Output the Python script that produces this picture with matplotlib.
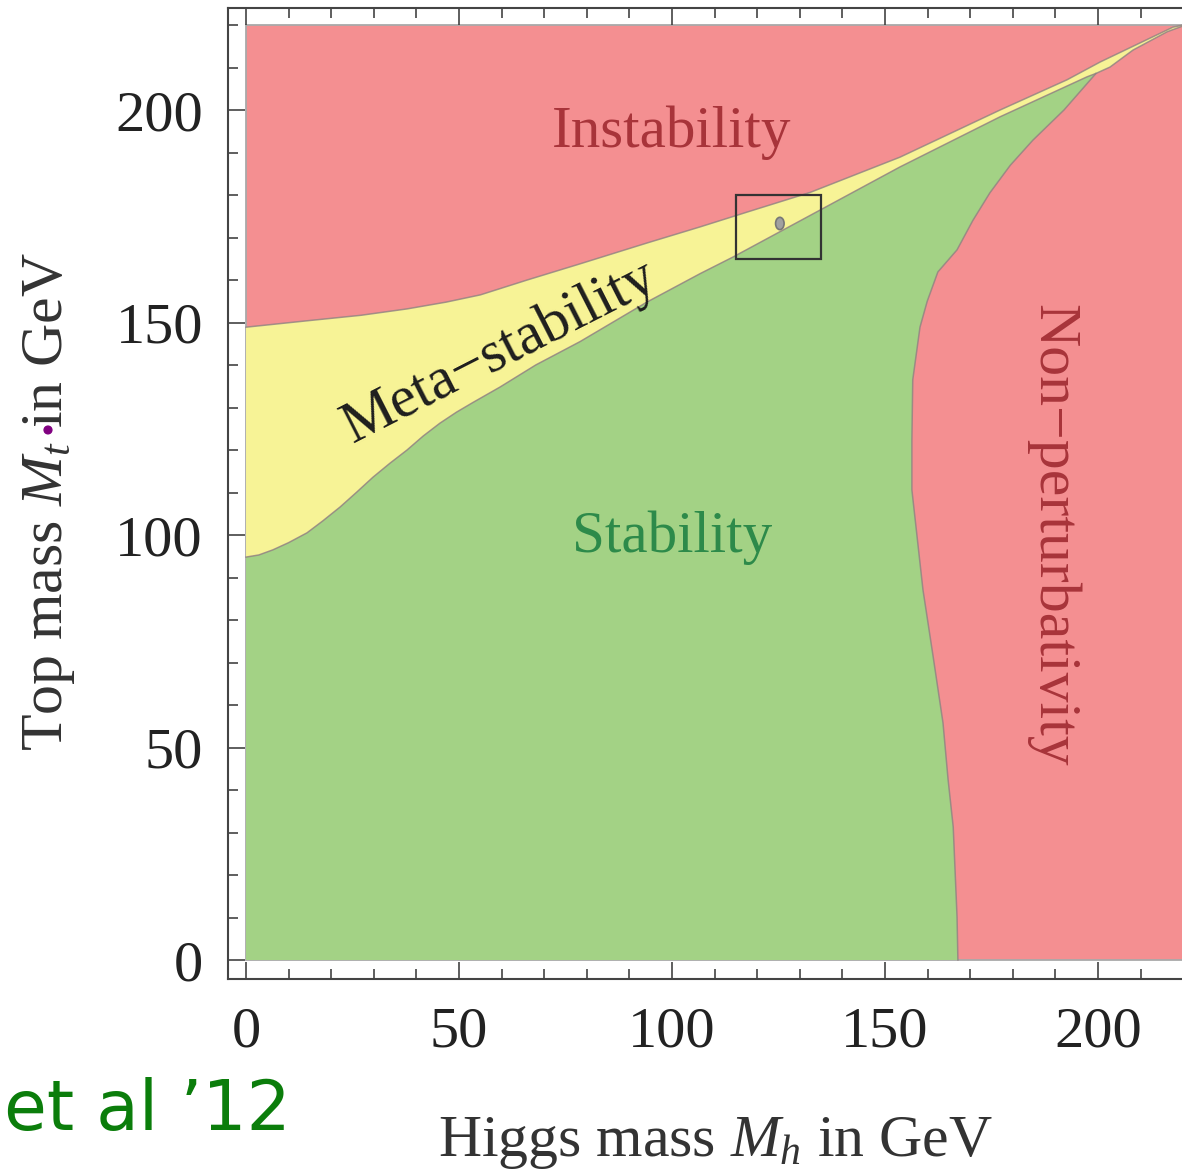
import numpy as np
import matplotlib
matplotlib.use("Agg")
import matplotlib.pyplot as plt
from matplotlib.patches import Rectangle, Ellipse, Circle
from matplotlib.ticker import MultipleLocator

# edge of the instability region (top of the meta-stable band), Mh -> Mt
inst_mh = [0, 14.3, 27.0, 37.8, 47.0, 55.0, 66.0, 78.4, 94.1, 106.6, 118.0, 132.4, 153.5, 177.0, 192.7, 200.5, 217.6, 220]
inst_mt = [148.9, 150.4, 151.7, 153.2, 154.8, 156.5, 160.0, 163.8, 168.7, 172.5, 176.1, 180.6, 188.9, 200.0, 207.1, 211.3, 219.5, 220]

# edge of the stable region (bottom of the meta-stable band), Mh -> Mt
meta_mh = [0, 3.0, 6.3, 10.0, 14.3, 18.0, 22.1, 26.0, 29.8, 33.8, 37.8, 41.6, 45.5, 49.4, 53.3, 59.6, 68.0, 78.4, 94.1, 106.6, 114.3, 135.2, 153.5, 177.0, 197.4, 199.5]
meta_mt = [94.8, 95.3, 96.5, 98.2, 100.5, 103.3, 106.6, 110.1, 113.6, 116.9, 120.0, 123.3, 126.3, 128.9, 131.2, 134.8, 140.0, 145.5, 154.8, 161.5, 165.4, 176.7, 186.6, 198.4, 207.8, 208.6]

# thin meta-stable sliver beyond the tip of the stable region
tail_mh = [202.8, 208.2, 216.2, 220]
tail_mt = [210.1, 214.1, 218.4, 219.8]

# non-perturbativity boundary, Mt -> Mh
np_mt = [0, 10.1, 31.3, 42.4, 55.8, 71.3, 87.1, 110.6, 122.4, 136.5, 148.9, 155.0, 161.9, 167.1, 174.0, 180.5, 187.0, 192.9, 200.0, 208.6]
np_mh = [167.1, 166.9, 166.0, 164.8, 163.6, 161.3, 158.9, 156.3, 156.3, 156.5, 158.2, 159.9, 162.4, 166.9, 170.6, 174.6, 179.4, 184.7, 192.0, 199.5]

# measured point and the zoom box around it
mh_exp, mt_exp = 125.3, 173.3
box_mh = [115, 135]
box_mt = [165, 180]

m_max = 220

RED = "#f48f91"
YELLOW = "#f7f396"
GREEN = "#a3d285"
EDGE = "#8f8282"

plt.rcParams["font.family"] = ["Liberation Serif", "DejaVu Serif"]
plt.rcParams["mathtext.fontset"] = "custom"
plt.rcParams["mathtext.rm"] = "Liberation Serif"
plt.rcParams["mathtext.it"] = "Liberation Serif:italic"

fig = plt.figure(figsize=(11.82, 11.70), dpi=100)
ax = fig.add_axes([228 / 1182, 1 - 979 / 1170, 1 - 228 / 1182, 971 / 1170])
ax.set_xlim(-4.23, 219.7)
ax.set_ylim(-4.47, 224.0)

# whole region starts red (instability / non-perturbativity)
ax.add_patch(Rectangle((0, 0), m_max, m_max, facecolor=RED, edgecolor="#a9a9a9", lw=1.3, zorder=1))

# meta-stable band
band_x = list(inst_mh) + list(tail_mh[::-1]) + list(meta_mh[::-1])
band_y = list(inst_mt) + list(tail_mt[::-1]) + list(meta_mt[::-1])
ax.fill(band_x, band_y, color=YELLOW, lw=0, zorder=2)

# stable region: under the meta-stable band, left of the non-perturbative edge
green_x = [0] + list(np_mh) + list(meta_mh[::-1][1:])
green_y = [0] + list(np_mt) + list(meta_mt[::-1][1:])
ax.fill(green_x, green_y, color=GREEN, lw=0, zorder=3)

ax.plot(inst_mh, inst_mt, color=EDGE, lw=1.1, alpha=0.8, zorder=4)
ax.plot(list(meta_mh) + list(tail_mh), list(meta_mt) + list(tail_mt), color=EDGE, lw=1.1, alpha=0.8, zorder=4)
ax.plot(np_mh, np_mt, color=EDGE, lw=1.1, alpha=0.8, zorder=4)

ax.add_patch(Rectangle((box_mh[0], box_mt[0]), box_mh[1] - box_mh[0], box_mt[1] - box_mt[0],
                       fill=False, edgecolor="#333333", lw=1.6, zorder=6))
ax.add_patch(Ellipse((mh_exp, mt_exp), 2.0, 2.9, facecolor="#a0a0a0", edgecolor="#777777", lw=1.2, zorder=6))

ax.text(100, 194.6, "Instability", color="#a8343a", fontsize=42.5, ha="center", va="center", zorder=7)
ax.text(100, 99.3, "Stability", color="#2d8a4a", fontsize=42.5, ha="center", va="center", zorder=7)
ax.text(59.5, 143.0, "Meta\u2212stability", color="#1e1e1e", fontsize=42.5, ha="center", va="center",
        rotation=27, rotation_mode="anchor", zorder=7)
ax.text(189.2, 100.0, "Non\u2212perturbativity", color="#a8343a", fontsize=43, ha="center", va="center",
        rotation=-90, rotation_mode="anchor", zorder=7)

ax.xaxis.set_major_locator(MultipleLocator(50))
ax.xaxis.set_minor_locator(MultipleLocator(10))
ax.yaxis.set_major_locator(MultipleLocator(50))
ax.yaxis.set_minor_locator(MultipleLocator(10))
ax.tick_params(which="both", direction="in", top=True, right=False, color="#333333", width=1.1)
ax.tick_params(which="major", length=12)
ax.tick_params(which="minor", length=7)
ax.tick_params(axis="x", labelsize=42, pad=20, labelcolor="#222222")
ax.tick_params(axis="y", labelsize=42, pad=18, labelcolor="#222222")
for side in ["left", "bottom", "top"]:
    ax.spines[side].set_color("#444444")
    ax.spines[side].set_linewidth(1.5)
ax.spines["right"].set_visible(False)

fig.text(0.0415, 0.571, "Top mass $M_t$ in GeV", rotation=90, fontsize=43, color="#333333",
         ha="center", va="center")
fig.text(0.605, 0.012, "Higgs mass $M_h$ in GeV", fontsize=43, color="#333333",
         ha="center", va="baseline")

# handwritten note and stray dot
fig.text(0.003, 0.034, "et al \u201912", fontsize=50, color="#0b7d0b", family="DejaVu Sans",
         ha="left", va="baseline")
fig.add_artist(Circle((0.0406, 0.6325), 0.0033, transform=fig.transFigure, color="#800080"))

fig.savefig("out.png", dpi=100)
